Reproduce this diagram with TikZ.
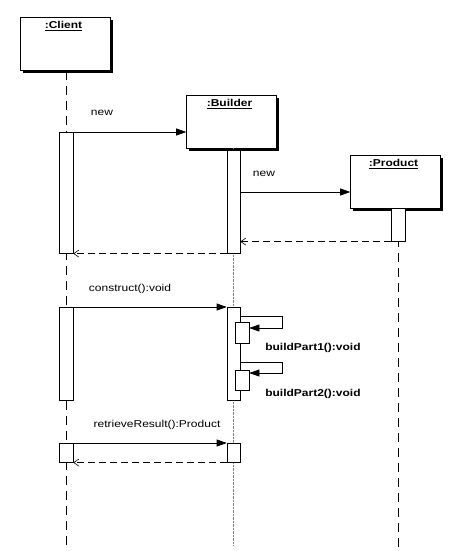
\documentclass[tikz,border=0pt]{standalone}
\usepackage{fontspec}
\setmainfont[FakeStretch=1.2]{Liberation Sans}
\usetikzlibrary{arrows.meta,shadows,positioning}

\tikzset{
    object/.style={draw, fill=white, minimum width=90pt, minimum height=53pt,
        drop shadow={shadow xshift=2.5pt, shadow yshift=-2.5pt, fill=black, opacity=1}},
    objtitle/.style={font=\bfseries\fontsize{10}{11}\selectfont, inner sep=1pt},
    activation/.style={draw, fill=white, minimum width=14pt, inner sep=0pt, anchor=north},
    lifeline/.style={dash pattern=on 9pt off 6pt},
    call/.style={-{Triangle[length=10pt,width=7pt]}},
    reply/.style={dash pattern=on 7pt off 4pt, -{Straight Barb[length=5pt,width=7pt]}},
    msg/.style={font=\fontsize{10}{11}\selectfont, inner sep=1pt},
    selfmsg/.style={font=\bfseries\fontsize{10}{11}\selectfont, inner sep=1pt, anchor=west},
}

\begin{document}
\begin{tikzpicture}[x=1pt, y=-1pt, line width=0.6pt]
    \useasboundingbox (0,0) rectangle (467,551);

    % Objects
    \node[object] (client) at (65.5,44) {};
    \node[object] (builder) at (231.5,121.5) {};
    \node[object] (product) at (395.5,181.5) {};
    \node[objtitle, below=3pt of client.north, xshift=-2pt] (clientTitle) {\underline{:Client}};
    \node[objtitle, below=3pt of builder.north, xshift=-2pt] (builderTitle) {\underline{:Builder}};
    \node[objtitle, below=3pt of product.north, xshift=-2pt] (productTitle) {\underline{:Product}};

    % Lifelines
    \coordinate (clientEnd) at (66,551);
    \coordinate (builderEnd) at (233,545);
    \coordinate (productEnd) at (398,551);
    \draw[lifeline] (client.south -| clientEnd) -- (clientEnd);
    \draw[densely dotted, gray, thin] (builder.south -| builderEnd) -- (builderEnd);
    \draw[lifeline] (product.south -| productEnd) -- (productEnd);

    % Activations
    \node[activation, minimum height=121pt] (clientAct1) at (66,132) {};
    \node[activation, minimum height=103pt, minimum width=13pt] (builderAct1) at (233.5,150) {};
    \node[activation, minimum height=33pt] (productAct) at (398,208) {};
    \node[activation, minimum height=93pt] (clientAct2) at (66,307) {};
    \node[activation, minimum height=93pt, minimum width=13pt] (builderAct2) at (233.5,307) {};
    \node[activation, minimum height=21pt] (partAct1) at (242,322) {};
    \node[activation, minimum height=20pt] (partAct2) at (242,370) {};
    \node[activation, minimum height=19pt] (clientAct3) at (66,443) {};
    \node[activation, minimum height=19pt, minimum width=13pt] (builderAct3) at (233.5,443) {};

    % Messages
    \draw[call] (clientAct1.north east) -- (clientAct1.north east -| builder.west);
    \node[msg] (newBuilder) at (102,113) {new};
    \draw[call] (builderAct1.east |- 0,192) -- (product.west |- 0,192);
    \node[msg] (newProduct) at (264,174) {new};
    \draw[reply] (productAct.south west) -- (productAct.south west -| builderAct1.east);
    \draw[reply] (builderAct1.south west) -- (clientAct1.south east);

    \draw[call] (clientAct2.north east) -- (builderAct2.north west);
    \node[msg] (construct) at (130,289) {construct():void};
    \coordinate (loop1) at (282,316);
    \coordinate (loop2) at (282,362);
    \draw[call] (builderAct2.east |- loop1) -- (loop1) -- (loop1 |- 0,328) -- (partAct1.east |- 0,328);
    \draw[call] (builderAct2.east |- loop2) -- (loop2) -- (loop2 |- 0,373) -- (partAct2.east |- 0,373);
    \node[selfmsg] (buildPart1) at (264,348) {buildPart1():void};
    \node[selfmsg] (buildPart2) at (264,394) {buildPart2():void};

    \draw[call] (clientAct3.north east) -- (builderAct3.north west);
    \node[msg] (retrieve) at (157,425) {retrieveResult():Product};
    \draw[reply] (builderAct3.south west) -- (clientAct3.south east);

\end{tikzpicture}
\end{document}
